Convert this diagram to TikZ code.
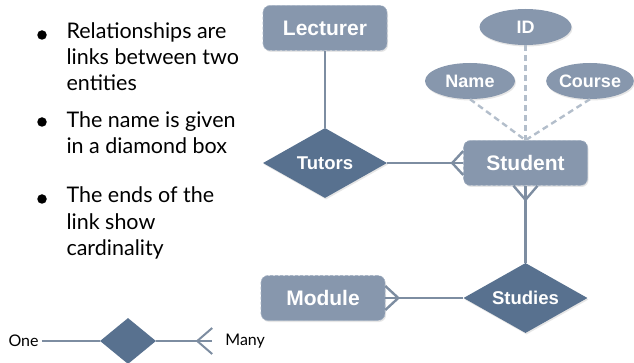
\documentclass[tikz,border=0pt]{standalone}
\usepackage{fontspec}
\setmainfont{Liberation Sans}
\newfontfamily\notefont{Lato}
\usetikzlibrary{shapes,positioning,shadows}

\definecolor{entfill}{HTML}{8797AD}
\definecolor{entedge}{HTML}{A7B4C5}
\definecolor{relfill}{HTML}{58718F}
\definecolor{linkgray}{HTML}{7D8DA1}
\definecolor{attrgray}{HTML}{B3BECB}

\begin{document}
\begin{tikzpicture}[x=1pt,y=1pt,
entity/.style={rectangle, rounded corners=7pt, fill=entfill, draw=entedge, densely dashed, line width=0.6pt, minimum width=124pt, minimum height=45pt, text=white, font=\bfseries\fontsize{21}{24}\selectfont, drop shadow={opacity=0.2, shadow xshift=1pt, shadow yshift=-1.5pt}},
relation/.style={diamond, aspect=1.77, inner sep=0pt, fill=relfill, minimum width=124pt, minimum height=70pt, text=white, font=\bfseries\fontsize{18.5}{22}\selectfont, drop shadow={opacity=0.2, shadow xshift=1pt, shadow yshift=-1.5pt}},
attribute/.style={ellipse, fill=entfill, inner sep=0pt, minimum height=36pt, text=white, font=\bfseries\fontsize{18}{22}\selectfont, drop shadow={opacity=0.2, shadow xshift=1pt, shadow yshift=-1.5pt}},
link/.style={draw=linkgray, line width=2.4pt},
attrlink/.style={draw=attrgray, line width=2.4pt, dash pattern=on 6pt off 4pt},
note/.style={anchor=base west, align=left, font=\notefont\fontsize{21.5}{26}\selectfont},
bulletdot/.style={circle, fill=black, minimum size=9.5pt, inner sep=0pt},
keyrel/.style={diamond, aspect=1.2, inner sep=0pt, fill=relfill, minimum width=56pt, minimum height=46pt},
keytext/.style={inner sep=3pt, font=\notefont\fontsize{16}{18}\selectfont},
]
\useasboundingbox (0,0) rectangle (634,-363);

%Notes (anchored at the baseline of the last line)
\node[bulletdot] (dotA) at (42,-35) {};
\node[note] (noteA) at (63,-91) {Relationships are\\links between two\\entities};
\node[bulletdot] (dotB) at (42,-122) {};
\node[note] (noteB) at (63,-154) {The name is given\\in a diamond box};
\node[bulletdot] (dotC) at (42,-199) {};
\node[note] (noteC) at (63,-255) {The ends of the\\link show\\cardinality};

%Nodes
\node[entity] (Lecturer) at (325,-28) {Lecturer};
\node[relation] (Tutors) [below=77pt of Lecturer] {Tutors};
\node[entity] (Student) [right=76pt of Tutors] {Student};
\node[relation] (Studies) [below=77pt of Student] {Studies};
\node[entity] (Module) [left=78pt of Studies] {Module};

\node[attribute, minimum width=92pt] (ID) [above=95pt of Student] {ID};
\node[attribute, minimum width=90pt] (Name) at (470,-81) {Name};
\node[attribute, minimum width=86pt] (Course) at (590,-81) {Course};

%Lines
\draw[link] (Lecturer.south) -- (Tutors.north);
\draw[link] (Tutors.east) -- (Student.west);
\draw[link] (Student.south) -- (Studies.north);
\draw[link] (Studies.west) -- (Module.east);

\draw[attrlink] (ID.south) -- (Student.north);
\draw[attrlink] (Name.south) -- (Student.north);
\draw[attrlink] (Course.south) -- (Student.north);

%Crow's feet
\draw[link] ([xshift=-11pt]Student.west) -- ([yshift=12pt]Student.west);
\draw[link] ([xshift=-11pt]Student.west) -- ([yshift=-12pt]Student.west);
\draw[link] ([yshift=-14pt]Student.south) -- ([xshift=-12pt]Student.south);
\draw[link] ([yshift=-14pt]Student.south) -- ([xshift=12pt]Student.south);
\draw[link] ([xshift=13pt]Module.east) -- ([yshift=12pt]Module.east);
\draw[link] ([xshift=13pt]Module.east) -- ([yshift=-12pt]Module.east);

%Key
\node[keyrel] (key) at (128,-341) {};
\node[keytext] (one) [left=58pt of key] {One};
\node[keytext] (many) [right=66pt of key] {Many};
\coordinate (manyfoot) at ([xshift=-10pt]many.west);
\draw[link, line width=2pt] (one) -- (key);
\draw[link, line width=2pt] (key) -- (manyfoot);
\draw[link, line width=2pt] ([xshift=-15pt]manyfoot) -- ([yshift=13pt]manyfoot);
\draw[link, line width=2pt] ([xshift=-15pt]manyfoot) -- ([yshift=-13pt]manyfoot);
\end{tikzpicture}
\end{document}
